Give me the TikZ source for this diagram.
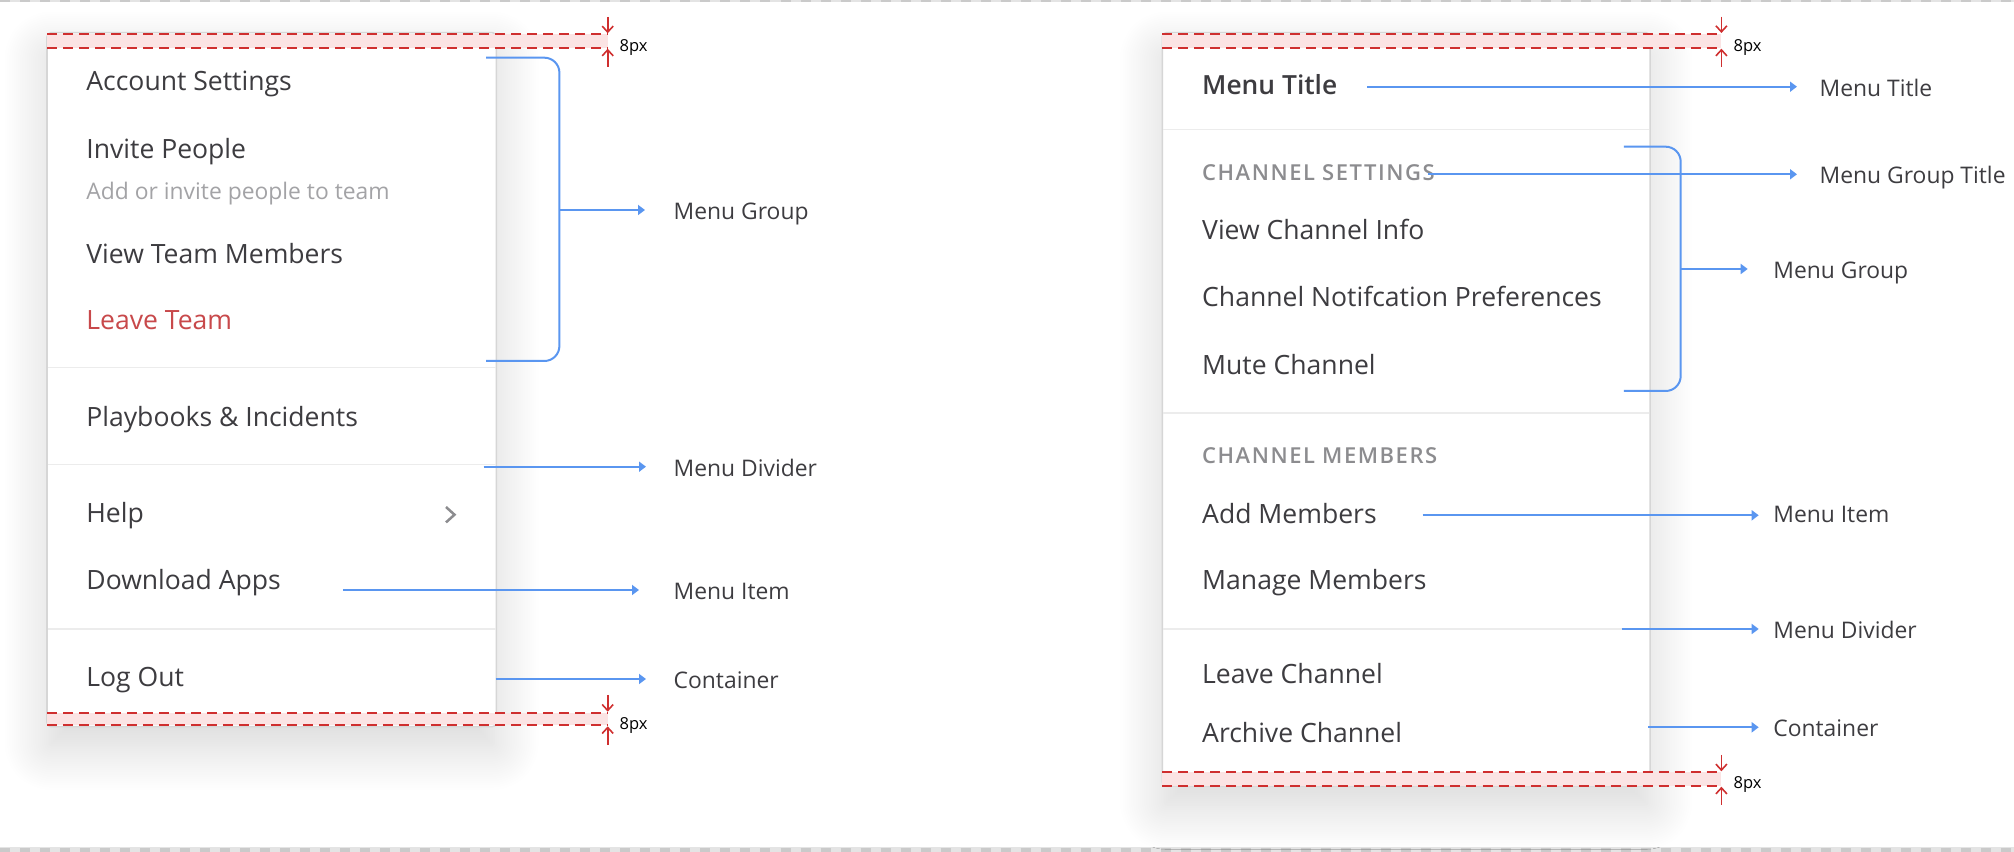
\documentclass[tikz,border=0pt]{standalone}
\usepackage{fontspec}
\setmainfont{Open Sans}
\IfFontExistsTF{Open Sans Semibold}
  {\newfontfamily\semifont{Open Sans Semibold}
   \newfontfamily\capsfont{Open Sans Semibold}[LetterSpace=7]}
  {\IfFontExistsTF{Open Sans SemiBold}
    {\newfontfamily\semifont{Open Sans SemiBold}
     \newfontfamily\capsfont{Open Sans SemiBold}[LetterSpace=7]}
    {\newfontfamily\semifont{Open Sans}[FakeBold=1.2]
     \newfontfamily\capsfont{Open Sans}[LetterSpace=7, FakeBold=0.9]}}
\usetikzlibrary{arrows.meta,calc,shadows.blur}
\definecolor{ink}{HTML}{3D3C40}
\definecolor{hint}{HTML}{A3A3A6}
\definecolor{grouptext}{HTML}{8C8C8F}
\definecolor{danger}{HTML}{C8494B}
\definecolor{accent}{HTML}{5A96F0}
\definecolor{marker}{HTML}{CF2F2F}
\definecolor{padfill}{HTML}{FBE4E4}
\definecolor{rule}{HTML}{ECECEC}
\definecolor{edge}{HTML}{D6D6D6}
\definecolor{frame}{HTML}{E4E4E4}
\definecolor{framedash}{HTML}{CACACA}

\begin{document}
\begin{tikzpicture}[x=0.01cm, y=-0.01cm,
  menubox/.style={draw=edge, fill=white, line width=0.015cm, rounded corners=0.04cm,
    blur shadow={shadow xshift=0pt, shadow yshift=-6pt, shadow blur radius=12pt,
      shadow blur steps=20, shadow opacity=16}},
  item/.style={anchor=base west, inner sep=0pt, text=ink, font=\fontsize{7.55}{8}\selectfont},
  subitem/.style={anchor=base west, inner sep=0pt, text=hint, font=\fontsize{6.5}{7}\selectfont},
  grouptitle/.style={anchor=base west, inner sep=0pt, text=grouptext, font=\capsfont\fontsize{6.25}{7}\selectfont},
  lbl/.style={anchor=mid west, inner sep=0pt, text=ink, font=\fontsize{6.5}{7}\selectfont},
  pxlbl/.style={anchor=mid west, inner sep=0pt, text=black, font=\fontsize{4.7}{6}\selectfont},
  divider/.style={draw=rule, line width=0.015cm},
  padline/.style={draw=marker, line width=0.02cm, dash pattern=on 0.1cm off 0.06cm},
  gap/.style={draw=marker, line width=0.016cm, -{Straight Barb[length=0.06cm,width=0.11cm]}},
  pointer/.style={draw=accent, line width=0.02cm, -{Triangle[length=0.07cm,width=0.1cm]}},
  brace/.style={draw=accent, line width=0.02cm, rounded corners=0.15cm}]
\useasboundingbox (0,0) rectangle (2014,852);

% frame strips
\fill[frame] (0,0) rectangle (2014,2.5);
\fill[frame] (0,847.5) rectangle (2014,852);
\draw[framedash, line width=0.025cm, dash pattern=on 0.1cm off 0.1cm] (0,1.2) -- (2014,1.2);
\draw[framedash, line width=0.045cm, dash pattern=on 0.1cm off 0.1cm] (0,849.8) -- (2014,849.8);

% left menu
\draw[menubox] (47,32.7) rectangle (496.4,726.7);
\fill[padfill] (47,34.3) rectangle (607.7,47.7);
\fill[padfill] (47,712.7) rectangle (607.7,725.3);
\draw[padline] (47,34.3) -- (607.7,34.3);
\draw[padline] (47,47.7) -- (607.7,47.7);
\draw[padline] (47,712.7) -- (607.7,712.7);
\draw[padline] (47,725.3) -- (607.7,725.3);

\node[item] (as) at (85.7,90.7) {Account Settings};
\node[item] (ip) at (85.7,158.3) {Invite People};
\node[subitem] (ipsub) at (85.7,199.3) {Add or invite people to team};
\node[item] (vt) at (85.7,263.3) {View Team Members};
\node[item, text=danger] (lt) at (85.7,330) {Leave Team};
\draw[divider] (48,367.7) -- (495.5,367.7);
\node[item] (pb) at (85.7,427) {Playbooks \& Incidents};
\draw[divider] (48,464.3) -- (495.5,464.3);
\node[item] (hp) at (85.7,522.7) {Help};
\draw[draw=grouptext, line width=0.025cm] (446,507) -- (454.5,514.7) -- (446,522.4);
\node[item] (da) at (85.7,590) {Download Apps};
\draw[divider] (48,629) -- (495.5,629);
\node[item] (lo) at (85.7,686.7) {Log Out};

% left padding marks
\coordinate (lt1) at (607.7,17);   \coordinate (lt2) at (607.7,33.3);
\coordinate (lt3) at (607.7,67);   \coordinate (lt4) at (607.7,48.7);
\coordinate (lb1) at (607.7,695);  \coordinate (lb2) at (607.7,711.7);
\coordinate (lb3) at (607.7,745);  \coordinate (lb4) at (607.7,726.3);
\draw[gap] (lt1) -- (lt2);
\draw[gap] (lt3) -- (lt4);
\draw[gap] (lb1) -- (lb2);
\draw[gap] (lb3) -- (lb4);
\node[pxlbl] (lpxt) at (619,42) {8px};
\node[pxlbl] (lpxb) at (619,720) {8px};

% left annotations
\draw[brace] (486,57.7) -- (559.4,57.7) -- (559.4,361) -- (486,361);
\coordinate (lgrp) at (559.4,210);
\coordinate (ldiv) at (483.5,466.7);
\coordinate (litm) at (342.9,590);
\coordinate (lcnt) at (495.5,679);
\node[lbl] (lgrplbl) at (673,210) {Menu Group};
\node[lbl] (ldivlbl) at (673,466.7) {Menu Divider};
\node[lbl] (litmlbl) at (673,590) {Menu Item};
\node[lbl] (lcntlbl) at (673,679) {Container};
\draw[pointer] (lgrp) -- ($(lgrplbl.mid west)+(-28,0)$);
\draw[pointer] (ldiv) -- ($(ldivlbl.mid west)+(-27,0)$);
\draw[pointer] (litm) -- ($(litmlbl.mid west)+(-34,0)$);
\draw[pointer] (lcnt) -- ($(lcntlbl.mid west)+(-27,0)$);

% right menu
\draw[menubox] (1162.3,32.7) rectangle (1650,786);
\fill[padfill] (1162.3,34) rectangle (1721.4,47.7);
\fill[padfill] (1162.3,772.3) rectangle (1721.4,785.7);
\draw[padline] (1162.3,34) -- (1721.4,34);
\draw[padline] (1162.3,47.7) -- (1721.4,47.7);
\draw[padline] (1162.3,772.3) -- (1721.4,772.3);
\draw[padline] (1162.3,785.7) -- (1721.4,785.7);

\node[item, font=\semifont\fontsize{7.5}{8}\selectfont] (mt) at (1201.5,95) {Menu Title};
\draw[divider] (1163.3,129.3) -- (1649,129.3);
\node[grouptitle] (cs) at (1201.5,181) {CHANNEL SETTINGS};
\node[item] (vc) at (1201.5,240) {View Channel Info};
\node[item] (cn) at (1201.5,306.7) {Channel Notifcation Preferences};
\node[item] (mc) at (1201.5,374.3) {Mute Channel};
\draw[divider] (1163.3,413) -- (1649,413);
\node[grouptitle] (cm) at (1201.5,463.3) {CHANNEL MEMBERS};
\node[item] (am) at (1201.5,523.3) {Add Members};
\node[item] (mm) at (1201.5,590) {Manage Members};
\draw[divider] (1163.3,629) -- (1649,629);
\node[item] (lc) at (1201.5,683.3) {Leave Channel};
\node[item] (ac) at (1201.5,742.7) {Archive Channel};

% right padding marks
\coordinate (rt1) at (1721.4,16.7);  \coordinate (rt2) at (1721.4,33);
\coordinate (rt3) at (1721.4,66.7);  \coordinate (rt4) at (1721.4,48.7);
\coordinate (rb1) at (1721.4,755);   \coordinate (rb2) at (1721.4,771.3);
\coordinate (rb3) at (1721.4,805);   \coordinate (rb4) at (1721.4,786.7);
\draw[gap] (rt1) -- (rt2);
\draw[gap] (rt3) -- (rt4);
\draw[gap] (rb1) -- (rb2);
\draw[gap] (rb3) -- (rb4);
\node[pxlbl] (rpxt) at (1733,42) {8px};
\node[pxlbl] (rpxb) at (1733,779.3) {8px};

% right annotations
\draw[brace] (1623.8,146.7) -- (1680.7,146.7) -- (1680.7,391) -- (1623.8,391);
\coordinate (rttl) at (1367,86.7);
\coordinate (rgtl) at (1428,174.3);
\coordinate (rgrp) at (1680.7,269);
\coordinate (ritm) at (1422.6,515.3);
\coordinate (rdiv) at (1621.6,629);
\coordinate (rcnt) at (1648.4,727.3);
\node[lbl] (rttllbl) at (1819,86.7) {Menu Title};
\node[lbl] (rgtllbl) at (1819,174.3) {Menu Group Title};
\node[lbl] (rgrplbl) at (1772.7,269) {Menu Group};
\node[lbl] (ritmlbl) at (1772.7,513) {Menu Item};
\node[lbl] (rdivlbl) at (1772.7,629) {Menu Divider};
\node[lbl] (rcntlbl) at (1772.7,727.3) {Container};
\draw[pointer] (rttl) -- ($(rttllbl.mid west)+(-22,0)$);
\draw[pointer] (rgtl) -- ($(rgtllbl.mid west)+(-22,0)$);
\draw[pointer] (rgrp) -- ($(rgrplbl.mid west)+(-25,0)$);
\draw[pointer] (ritm) -- ($(ritmlbl.mid west)+(-14,2.3)$);
\draw[pointer] (rdiv) -- ($(rdivlbl.mid west)+(-14,0)$);
\draw[pointer] (rcnt) -- ($(rcntlbl.mid west)+(-14,0)$);
\end{tikzpicture}
\end{document}
